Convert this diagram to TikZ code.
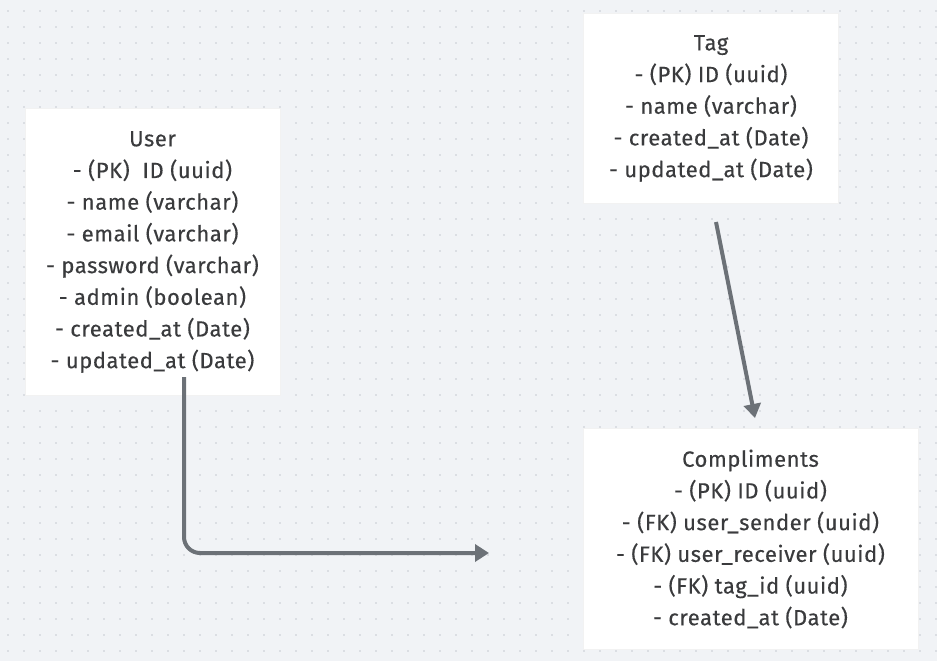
\documentclass[tikz,border=0pt]{standalone}
\usepackage{fontspec}
\setmainfont[LetterSpace=2.5,FakeBold=0.3]{Fira Sans}
\usetikzlibrary{arrows.meta,calc,positioning}
\definecolor{bgcol}{HTML}{F1F3F6}
\definecolor{dotcol}{HTML}{C6CAD0}
\definecolor{linecol}{HTML}{6C7177}
\definecolor{txtcol}{HTML}{3A3B3D}

\begin{document}
\begin{tikzpicture}[x=1pt,y=-1pt,
table/.style={fill=white,draw=black!5,text=txtcol,align=center,inner sep=0pt,
font=\fontsize{22}{31.7}\selectfont},
conn/.style={draw=linecol,line width=4pt,-{Triangle[length=14pt,width=17pt]}}]
\fill[bgcol] (0,0) rectangle (937,661);
\useasboundingbox (0,0) rectangle (937,661);
\foreach \i in {0,...,58}
\foreach \j in {0,...,40}
\fill[dotcol] (8+16*\i,11+16*\j) circle (0.9pt);
\node[table,minimum width=255,minimum height=287] (user) at (152.5,252)
{User\\- (PK)\ \ ID (uuid)\\- name (varchar)\\- email (varchar)\\- password (varchar)\\
- admin (boolean)\\- created\_at (Date)\\- updated\_at (Date)};
\node[table,minimum width=255,minimum height=190] (tag) at (711,108.5)
{Tag\\- (PK) ID (uuid)\\- name (varchar)\\- created\_at (Date)\\- updated\_at (Date)};
\node[table,minimum width=335,minimum height=221] (compl) at (750.5,539)
{Compliments\\- (PK) ID (uuid)\\- (FK) user\_sender (uuid)\\- (FK) user\_receiver (uuid)\\
- (FK) tag\_id (uuid)\\- created\_at (Date)};
\coordinate (u0) at (184,377);
\coordinate (c0) at (489,553);
\coordinate (t0) at (716,222);
\coordinate (c1) at (755,418);
\draw[conn,rounded corners=16pt] (u0) |- (c0);
\draw[conn] (t0) -- (c1);
\end{tikzpicture}
\end{document}
